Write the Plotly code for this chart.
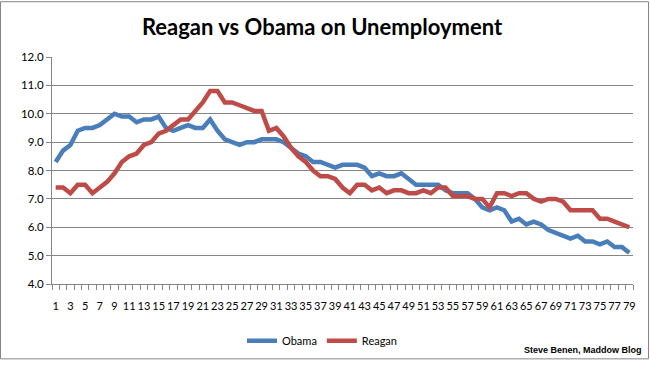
import plotly.graph_objects as go

months = list(range(1, 80))
obama = [8.3, 8.7, 8.9, 9.4, 9.5, 9.5, 9.6, 9.8, 10.0, 9.9,
         9.9, 9.7, 9.8, 9.8, 9.9, 9.5, 9.4, 9.5, 9.6, 9.5,
         9.5, 9.8, 9.4, 9.1, 9.0, 8.9, 9.0, 9.0, 9.1, 9.1,
         9.1, 9.0, 8.8, 8.6, 8.5, 8.3, 8.3, 8.2, 8.1, 8.2,
         8.2, 8.2, 8.1, 7.8, 7.9, 7.8, 7.8, 7.9, 7.7, 7.5,
         7.5, 7.5, 7.5, 7.3, 7.2, 7.2, 7.2, 7.0, 6.7, 6.6,
         6.7, 6.6, 6.2, 6.3, 6.1, 6.2, 6.1, 5.9, 5.8, 5.7,
         5.6, 5.7, 5.5, 5.5, 5.4, 5.5, 5.3, 5.3, 5.1]
reagan = [7.4, 7.4, 7.2, 7.5, 7.5, 7.2, 7.4, 7.6, 7.9, 8.3,
          8.5, 8.6, 8.9, 9.0, 9.3, 9.4, 9.6, 9.8, 9.8, 10.1,
          10.4, 10.8, 10.8, 10.4, 10.4, 10.3, 10.2, 10.1, 10.1, 9.4,
          9.5, 9.2, 8.8, 8.5, 8.3, 8.0, 7.8, 7.8, 7.7, 7.4,
          7.2, 7.5, 7.5, 7.3, 7.4, 7.2, 7.3, 7.3, 7.2, 7.2,
          7.3, 7.2, 7.4, 7.4, 7.1, 7.1, 7.1, 7.0, 7.0, 6.7,
          7.2, 7.2, 7.1, 7.2, 7.2, 7.0, 6.9, 7.0, 7.0, 6.9,
          6.6, 6.6, 6.6, 6.6, 6.3, 6.3, 6.2, 6.1, 6.0]
x_ticks = list(range(1, 80, 2))
y_ticks = [4, 5, 6, 7, 8, 9, 10, 11, 12]
y_labels = [f"{v:.1f}" for v in y_ticks]

W, H = 650, 367
L, R, T, B = 52, 17, 57, 78
pw, ph = W - L - R, H - T - B
grid = "#868686"
font = "Lato, Carlito, Calibri, sans-serif"

fig = go.Figure()
fig.add_trace(go.Scatter(x=months, y=obama, mode="lines", name="Obama",
                         line=dict(color="#4A7EBB", width=4.5)))
fig.add_trace(go.Scatter(x=months, y=reagan, mode="lines", name="Reagan",
                         line=dict(color="#BE4B48", width=4.5)))

fig.update_layout(
    width=W, height=H,
    margin=dict(l=L, r=R, t=T, b=B, pad=0),
    paper_bgcolor="white", plot_bgcolor="white",
    font=dict(family=font, size=11, color="#000000"),
    title=dict(text="<b>Reagan vs Obama on Unemployment</b>",
               font=dict(family=font, size=22, color="#000000"),
               xref="container", x=322 / W, xanchor="center",
               yref="container", y=1 - 27 / H, yanchor="middle"),
    showlegend=True,
    legend=dict(orientation="h", xref="paper", yref="paper",
                x=(322 - L) / pw, xanchor="center",
                y=(H - B - 347) / ph, yanchor="middle",
                font=dict(family=font, size=11, color="#000000"),
                itemwidth=30, bgcolor="rgba(0,0,0,0)"),
    xaxis=dict(range=[0.5, 79.5], tickmode="array", tickvals=x_ticks,
               ticktext=[str(v) for v in x_ticks], tickangle=0,
               ticks="", showgrid=False, zeroline=False,
               showline=True, linecolor=grid, linewidth=1,
               ticklabelstandoff=12,
               tickfont=dict(family=font, size=11, color="#000000"),
               minor=dict(tick0=0.5, dtick=1, ticks="outside", ticklen=5,
                          tickcolor=grid, tickwidth=1, showgrid=False),
               fixedrange=True),
    yaxis=dict(range=[4, 12], tickmode="array", tickvals=y_ticks,
               ticktext=y_labels, ticks="outside", ticklen=5,
               tickcolor=grid, showgrid=True, gridcolor=grid, gridwidth=1,
               zeroline=False, showline=True, linecolor=grid, linewidth=1,
               tickfont=dict(family=font, size=11.5, color="#000000"),
               fixedrange=True),
    shapes=[dict(type="rect", xref="paper", yref="paper",
                 x0=(0.5 - L) / pw, x1=(W - 1.5 - L) / pw,
                 y0=(H - B - (H - 1.5)) / ph, y1=(H - B - 0.5) / ph,
                 line=dict(color=grid, width=1), fillcolor="rgba(0,0,0,0)",
                 layer="below")],
    annotations=[dict(text="<b>Steve Benen, Maddow Blog</b>",
                      xref="paper", yref="paper",
                      x=(644 - L) / pw, xanchor="right",
                      y=(H - B - 356) / ph, yanchor="middle",
                      showarrow=False,
                      font=dict(family="Liberation Sans Narrow, Liberation Sans, Arial, sans-serif",
                                size=9, color="#000000"))],
)

fig.write_html("out.html", config={"displayModeBar": False},
               post_script="document.body.style.margin='0';document.body.style.overflow='hidden';")
